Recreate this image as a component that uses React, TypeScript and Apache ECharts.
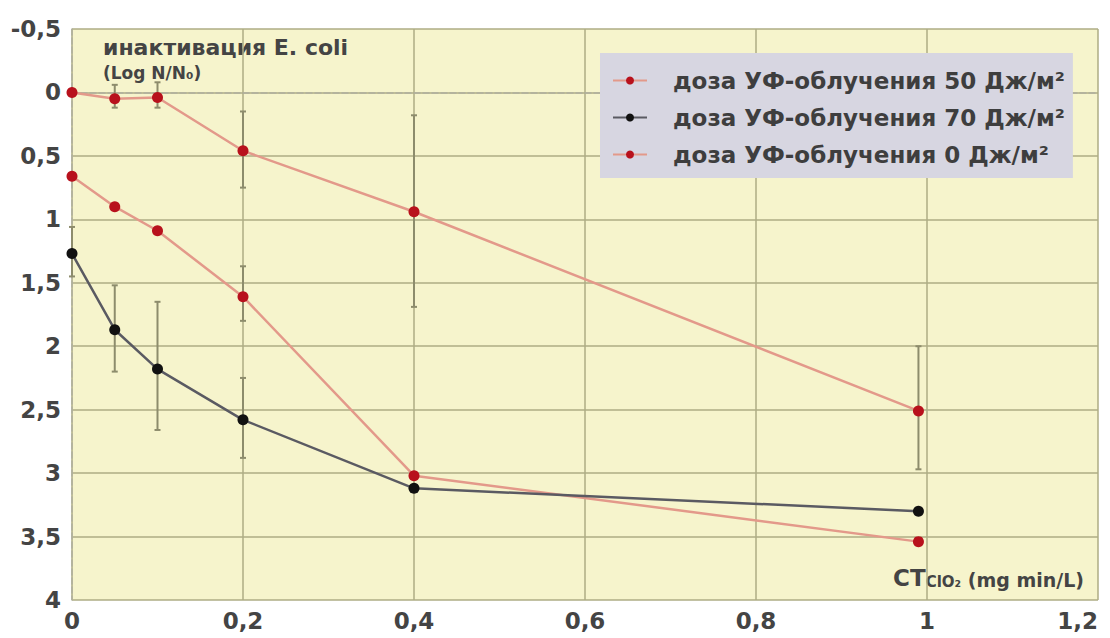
import React, { useEffect, useRef } from 'react';
import * as echarts from 'echarts';

// CT ClO2 (mg min/L)
const xValues = [0, 0.05, 0.1, 0.2, 0.4, 0.99];

const seriesNames = [
  'доза УФ-облучения 50 Дж/м²',
  'доза УФ-облучения 70 Дж/м²',
  'доза УФ-облучения 0 Дж/м²',
];

// inactivation Log N/N0
const dose50 = [0.66, 0.9, 1.09, 1.61, 3.02, 3.54];
const dose70 = [1.27, 1.87, 2.18, 2.58, 3.12, 3.3];
const dose0 = [0, 0.05, 0.04, 0.46, 0.94, 2.51];

// error bars (low / high), null = none
const dose50ErrLow = [null, null, null, 1.37, null, null];
const dose50ErrHigh = [null, null, null, 1.8, null, null];
const dose70ErrLow = [1.06, 1.52, 1.65, 2.25, null, null];
const dose70ErrHigh = [1.45, 2.2, 2.66, 2.88, null, null];
const dose0ErrLow = [null, -0.06, -0.08, 0.15, 0.18, 2.0];
const dose0ErrHigh = [null, 0.12, 0.12, 0.75, 1.69, 2.97];

const yMin = -0.5;
const yMax = 4;
const yStep = 0.5;
const xMin = 0;
const xMax = 1.2;
const xStep = 0.2;

const FONT = '"DejaVu Sans", "Liberation Sans", sans-serif';
const ERR_COLOR = '#8d8c6c';
const TEXT = '#444444';

function toComma(v: number): string {
  const r = Math.round(v * 100) / 100;
  return String(r).replace('.', ',');
}

function errorSeries(id: string, lows: (number | null)[], highs: (number | null)[]) {
  const data: number[][] = [];
  xValues.forEach((x, i) => {
    const lo = lows[i];
    const hi = highs[i];
    if (lo != null && hi != null) data.push([x, lo, hi]);
  });
  return {
    type: 'custom',
    id,
    silent: true,
    z: 1,
    encode: { x: 0, y: [1, 2] },
    data,
    renderItem: (params: any, api: any) => {
      const x = api.value(0);
      const a = api.coord([x, api.value(1)]);
      const b = api.coord([x, api.value(2)]);
      const c = 3;
      const st = { stroke: ERR_COLOR, lineWidth: 2 };
      return {
        type: 'group',
        children: [
          { type: 'line', shape: { x1: a[0], y1: a[1], x2: b[0], y2: b[1] }, style: st },
          { type: 'line', shape: { x1: a[0] - c, y1: a[1], x2: a[0] + c, y2: a[1] }, style: st },
          { type: 'line', shape: { x1: b[0] - c, y1: b[1], x2: b[0] + c, y2: b[1] }, style: st },
        ],
      };
    },
  };
}

function lineSeries(name: string, values: number[], lineColor: string, dotColor: string) {
  return {
    type: 'line',
    name,
    z: 3,
    data: xValues.map((x, i) => [x, values[i]]),
    symbol: 'circle',
    symbolSize: 11,
    lineStyle: { color: lineColor, width: 2.5 },
    itemStyle: { color: dotColor, borderColor: dotColor, borderWidth: 0 },
  };
}

export default function App() {
  const ref = useRef<HTMLDivElement>(null);

  useEffect(() => {
    if (!ref.current) return;
    const chart = echarts.init(ref.current, undefined, { renderer: 'svg' });
    chart.setOption({
      animation: false,
      backgroundColor: '#ffffff',
      grid: {
        left: 72,
        top: 29,
        right: 12,
        bottom: 38,
        show: true,
        backgroundColor: '#f6f4cc',
        borderWidth: 0,
      },
      xAxis: {
        type: 'value',
        min: xMin,
        max: xMax,
        interval: xStep,
        axisLine: { show: true, lineStyle: { color: '#b0b0a0', type: 'dashed', width: 1.5 } },
        axisTick: { show: false },
        splitLine: { show: true, lineStyle: { color: '#aeac84', width: 1.5 } },
        axisLabel: {
          formatter: (v: number) => toComma(v),
          fontFamily: FONT,
          fontWeight: 'bold',
          fontSize: 23,
          color: TEXT,
          margin: 9,
          alignMaxLabel: 'right',
        },
      },
      yAxis: {
        type: 'value',
        inverse: true,
        min: yMin,
        max: yMax,
        interval: yStep,
        axisLine: { show: true, lineStyle: { color: '#b0b0a0', type: 'dashed', width: 1.5 } },
        axisTick: { show: false },
        splitLine: { show: true, lineStyle: { color: '#aeac84', width: 1.5 } },
        axisLabel: {
          formatter: (v: number) => toComma(v),
          fontFamily: FONT,
          fontWeight: 'bold',
          fontSize: 23,
          color: TEXT,
          margin: 11,
        },
      },
      legend: {
        orient: 'vertical',
        left: 600,
        top: 53,
        data: seriesNames,
        backgroundColor: '#d7d6e1',
        padding: [16, 8, 12, 12],
        itemGap: 14,
        itemWidth: 34,
        itemHeight: 10,
        selectedMode: false,
        textStyle: {
          fontFamily: FONT,
          fontWeight: 'bold',
          fontSize: 23,
          color: '#3e3e3e',
          padding: [0, 0, 0, 21],
        },
      },
      graphic: [
        {
          type: 'text',
          left: 103,
          top: 36,
          silent: true,
          style: {
            text: 'инактивация E. coli',
            font: `bold 22px ${FONT}`,
            fill: TEXT,
          },
        },
        {
          type: 'text',
          left: 103,
          top: 64,
          silent: true,
          style: {
            text: '(Log N/N₀)',
            font: `bold 17px ${FONT}`,
            fill: TEXT,
          },
        },
        {
          type: 'text',
          right: 26,
          top: 566,
          silent: true,
          style: {
            text: '{a|CT}{b|ClO₂}{c| (mg min/L)}',
            fill: TEXT,
            rich: {
              a: { fontFamily: FONT, fontWeight: 'bold', fontSize: 23, fill: TEXT, verticalAlign: 'bottom', lineHeight: 28 },
              b: { fontFamily: FONT, fontWeight: 'bold', fontSize: 15, fill: TEXT, verticalAlign: 'bottom', lineHeight: 20 },
              c: { fontFamily: FONT, fontWeight: 'bold', fontSize: 19, fill: TEXT, verticalAlign: 'bottom', lineHeight: 26 },
            },
          },
        },
      ],
      series: [
        errorSeries('err50', dose50ErrLow, dose50ErrHigh),
        errorSeries('err70', dose70ErrLow, dose70ErrHigh),
        errorSeries('err0', dose0ErrLow, dose0ErrHigh),
        lineSeries(seriesNames[0], dose50, '#e3998a', '#b8111c'),
        lineSeries(seriesNames[1], dose70, '#5a5a62', '#111111'),
        lineSeries(seriesNames[2], dose0, '#e3998a', '#b8111c'),
      ],
    });
    return () => chart.dispose();
  }, []);

  return (
    <div
      ref={ref}
      style={{ position: 'fixed', left: 0, top: 0, width: 1110, height: 638 }}
    />
  );
}
